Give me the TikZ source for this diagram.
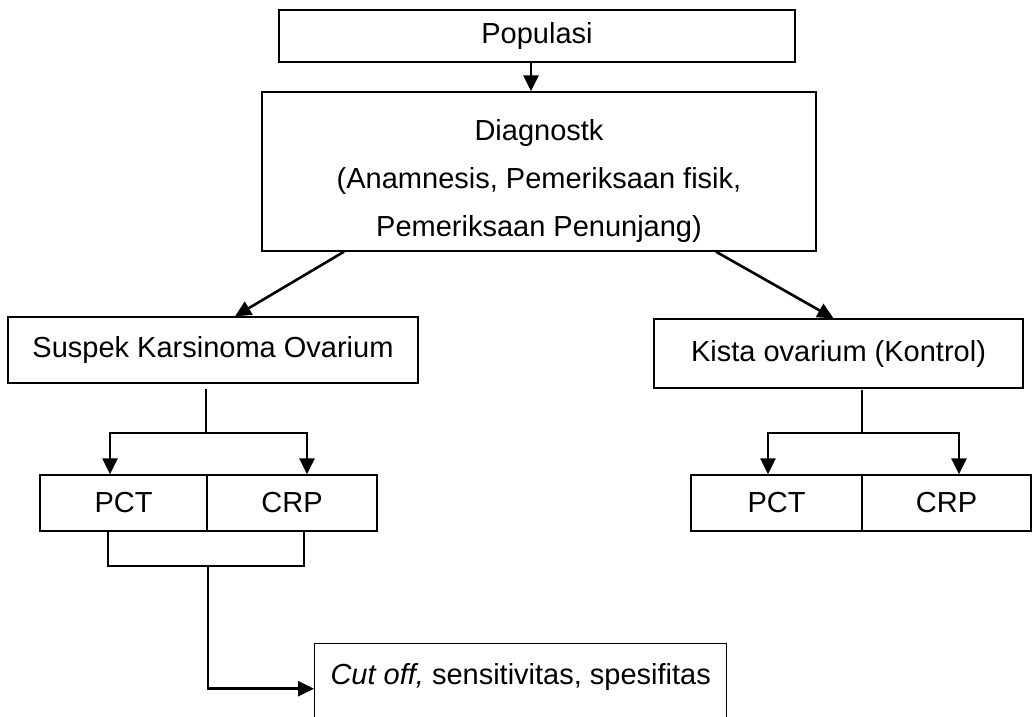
\documentclass[tikz,border=0pt]{standalone}
\usepackage{fontspec}
\setmainfont{Liberation Sans}
\usetikzlibrary{arrows.meta}

\begin{document}
\begin{tikzpicture}[x=1pt,y=-1pt,
        box/.style={draw,rectangle,line width=1.4pt,inner sep=0pt,font=\fontsize{29}{48}\selectfont},
        conn/.style={line width=2.6pt},
        arr/.style={conn,-{Triangle[length=16pt,width=15pt]}}]
    \useasboundingbox (0,0) rectangle (1033,716);
    \clip (0,0) rectangle (1033,716);

    \node[box,minimum width=516pt,minimum height=52pt] (populasi) at (537,36) {Populasi};
    \node[box,minimum width=554pt,minimum height=159pt,align=center] (diagnostik) at (539,171.5) {\rule{0pt}{41pt}Diagnostk\\(Anamnesis, Pemeriksaan fisik,\\Pemeriksaan Penunjang)};

    \node[box,minimum width=410pt,minimum height=66pt] (suspek) at (213,350) {Suspek Karsinoma Ovarium};
    \node[box,minimum width=369pt,minimum height=69pt] (kista) at (838.5,353.5) {Kista ovarium (Kontrol)};

    % sel PCT / CRP
    \node[box,minimum width=167pt,minimum height=56pt] (pctA) at (123.5,503) {PCT};
    \node[box,minimum width=170pt,minimum height=56pt] (crpA) at (292,503) {CRP};
    \node[box,minimum width=171pt,minimum height=56pt] (pctB) at (776.5,503) {PCT};
    \node[box,minimum width=169pt,minimum height=56pt] (crpB) at (946.5,503) {CRP};

    \node[box,minimum width=412pt,text height=41pt,text depth=49pt,anchor=north west] (hasil) at (314,643) {\textit{Cut off,} sensitivitas, spesifitas};

    \coordinate (cabangA) at (206,433);
    \coordinate (cabangB) at (862,433);
    \coordinate (kiriA) at (110,433);
    \coordinate (kananA) at (307,433);
    \coordinate (kiriB) at (768,433);
    \coordinate (kananB) at (959,433);
    \coordinate (bawahP) at (108,566);
    \coordinate (bawahC) at (304,566);
    \coordinate (gabung) at (208,566);

    \draw[arr] ([xshift=-6pt]populasi.south) -- ([xshift=-6pt]populasi.south |- diagnostik.north);
    \draw[arr] ([xshift=-195pt]diagnostik.south) -- ([xshift=22pt]suspek.north);
    \draw[arr] ([xshift=177pt]diagnostik.south) -- ([xshift=-5pt]kista.north);

    \draw[conn] ([yshift=-5pt]suspek.south -| cabangA) -- (cabangA);
    \draw[arr] (cabangA) -| (kiriA |- pctA.north);
    \draw[arr] (cabangA) -| (kananA |- crpA.north);

    \draw[conn] ([yshift=-1pt]kista.south -| cabangB) -- (cabangB);
    \draw[arr] (cabangB) -| (kiriB |- pctB.north);
    \draw[arr] (cabangB) -| (kananB |- crpB.north);

    \draw[conn] (pctA.south -| bawahP) -- (bawahP) -- (bawahC) -- (crpA.south -| bawahC);
    \draw[arr] (gabung) |- (hasil.west);
\end{tikzpicture}
\end{document}
